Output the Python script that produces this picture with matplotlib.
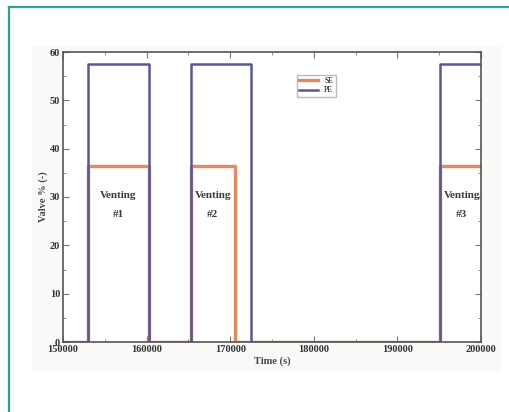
import matplotlib.pyplot as plt
from matplotlib.patches import Rectangle
from matplotlib.ticker import MultipleLocator

# valve openings (step-post) over time
czas = [150000, 153000, 160300, 165300, 170600, 172500, 195100, 200000]
zawor_pe = [0, 57.5, 0, 57.5, 57.5, 0, 57.5, 57.5]
zawor_se = [0, 36.5, 0, 36.5, 0, 0, 36.5, 36.5]

etykiety = ["Venting\n\n#1", "Venting\n\n#2", "Venting\n\n#3"]
etykiety_x = [156600, 167900, 197700]
etykiety_y = [28.3, 28.3, 28.3]

plt.rcParams['font.family'] = ['Liberation Serif', 'DejaVu Serif']

fig = plt.figure(figsize=(5.1, 4.12), dpi=100)

# teal frame on the left and top
fig.add_artist(plt.Line2D([9.5 / 510, 9.5 / 510], [0, 1 - 6.5 / 412], color='#2aa391', lw=1.6))
fig.add_artist(plt.Line2D([9.5 / 510, 1], [1 - 6.5 / 412, 1 - 6.5 / 412], color='#2aa391', lw=1.6))
# light background behind the plot
fig.add_artist(Rectangle((32 / 510, 1 - 370 / 412), 468 / 510, 323 / 412,
                         transform=fig.transFigure, color='#f9f9f7', zorder=-1))

ax = fig.add_axes([63 / 510, 1 - 342 / 412, 418 / 510, 290 / 412])
ax.set_facecolor('white')

ax.plot(czas, zawor_se, drawstyle='steps-post', color='#e9875f', lw=2.4, label='SE')
ax.plot(czas, zawor_pe, drawstyle='steps-post', color='#56569a', lw=1.8, label='PE')

for txt, x, y in zip(etykiety, etykiety_x, etykiety_y):
    ax.text(x, y, txt, ha='center', va='center', fontsize=8, fontweight='bold',
            color='#3a3a3a', linespacing=1.05, clip_on=False)

ax.set_xlim(150000, 200000)
ax.set_ylim(0, 60)
ax.xaxis.set_major_locator(MultipleLocator(10000))
ax.xaxis.set_minor_locator(MultipleLocator(5000))
ax.yaxis.set_major_locator(MultipleLocator(10))
ax.yaxis.set_minor_locator(MultipleLocator(5))
ax.tick_params(which='both', direction='in', top=True, right=True, labelsize=7.5,
               colors='#777777', labelcolor='#333333', pad=2)
ax.tick_params(which='major', length=4)
ax.tick_params(which='minor', length=2)
for lab in ax.get_xticklabels() + ax.get_yticklabels():
    lab.set_fontweight('bold')
for s in ax.spines.values():
    s.set_color('#555555')
    s.set_linewidth(1.2)

ax.set_xlabel('Time (s)', fontsize=7.5, fontweight='bold', color='#444444', labelpad=2)
ax.set_ylabel('Valve % (-)', fontsize=7.5, fontweight='bold', color='#444444', labelpad=1)

ax.legend(loc='upper left', bbox_to_anchor=(0.55, 0.935), fontsize=5.5,
          handlelength=2.5, borderpad=0.3, labelspacing=0.2, fancybox=False,
          edgecolor='#bbbbbb', framealpha=1)

fig.savefig('out.png', dpi=100)
